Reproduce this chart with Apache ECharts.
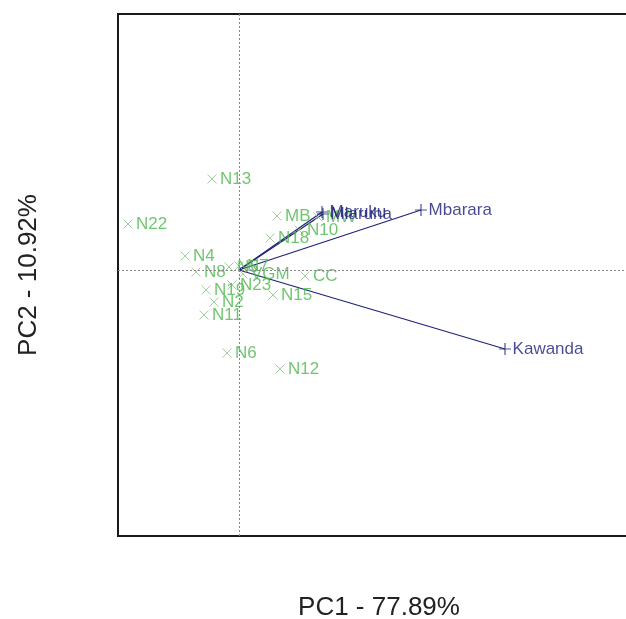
<!DOCTYPE html>
<html><head><meta charset="utf-8">
<script src="https://cdn.jsdelivr.net/npm/echarts@6/dist/echarts.min.js"></script>
<style>html,body{margin:0;padding:0;background:#fff;overflow:hidden;}#c{width:626px;height:619px;}</style>
</head><body><div id="c"></div>
<script>
// Sample scores (PC1, PC2)
const sampleNames = ["N13","N22","N4","N8","N19","N2","N11","N6","N12","MB","N18","N10","MW","CC","N15","VGM","N23","N5","N7"];
const samplePC1 = [-0.27,-1.11,-0.54,-0.43,-0.33,-0.25,-0.35,-0.12,0.41,0.38,0.31,0.60,0.79,0.66,0.34,0.04,-0.07,-0.10,0.00];
const samplePC2 = [0.91,0.46,0.14,-0.02,-0.20,-0.32,-0.45,-0.83,-0.99,0.54,0.32,0.40,0.53,-0.06,-0.25,-0.04,-0.15,0.03,0.04];
// Loadings (environments)
const varNames = ["Maruku","Mlaruha","Mbarara","Kawanda"];
const varPC1 = [0.83,0.84,1.82,2.66];
const varPC2 = [0.58,0.56,0.60,-0.79];
const axisTitles = ["PC1 - 77.89%","PC2 - 10.92%"];

const pts = sampleNames.map((n,i)=>({name:n,value:[samplePC1[i],samplePC2[i]]}));
const vpts = varNames.map((n,i)=>({name:n,value:[varPC1[i],varPC2[i]]}));
const arrows = varNames.map((n,i)=>({coords:[[0,0],[varPC1[i],varPC2[i]]]}));

const chart = echarts.init(document.getElementById('c'));
chart.setOption({
  animation:false,
  backgroundColor:'#fff',
  grid:{left:118,top:14,width:522,height:522,outerBoundsMode:'none',containLabel:false,
    show:true,borderColor:'#1a1a1a',borderWidth:2,backgroundColor:'transparent'},
  xAxis:{type:'value',min:-1.21,max:4.01,name:axisTitles[0],nameLocation:'middle',nameGap:72,
    nameTextStyle:{fontFamily:'Liberation Sans',fontSize:26,color:'#222',verticalAlign:'middle'},
    axisLine:{show:false},axisTick:{show:false},axisLabel:{show:false},splitLine:{show:false}},
  yAxis:{type:'value',min:-2.66,max:2.56,name:axisTitles[1],nameLocation:'middle',nameGap:89,
    nameTextStyle:{fontFamily:'Liberation Sans',fontSize:26,color:'#222',verticalAlign:'middle'},
    axisLine:{show:false},axisTick:{show:false},axisLabel:{show:false},splitLine:{show:false}},
  series:[
    {type:'scatter',data:[],silent:true,
     markLine:{silent:true,symbol:'none',label:{show:false},
       lineStyle:{color:'#888',type:[2,2],width:1},
       data:[{xAxis:0},{yAxis:0}]}},
    {type:'lines',coordinateSystem:'cartesian2d',data:arrows,silent:true,
     lineStyle:{color:'#20237a',width:1.3,opacity:1}},
    {type:'scatter',data:pts,symbol:'path://M0,0L10,10M10,0L0,10',symbolSize:9,
     itemStyle:{color:'rgba(0,0,0,0)',borderColor:'#8cbf8c',borderWidth:1},
     label:{show:true,position:'right',distance:3,formatter:'{b}',
       fontFamily:'Liberation Sans',fontSize:17,color:'#4cb84c'}},
    {type:'scatter',data:vpts,symbol:'path://M5,0L5,10M0,5L10,5',symbolSize:12,
     itemStyle:{color:'rgba(0,0,0,0)',borderColor:'#20237a',borderWidth:1.2},
     label:{show:true,position:'right',distance:1,formatter:'{b}',
       fontFamily:'Liberation Sans',fontSize:17,color:'#1a1d78'}}
  ]
});
</script></body></html>
